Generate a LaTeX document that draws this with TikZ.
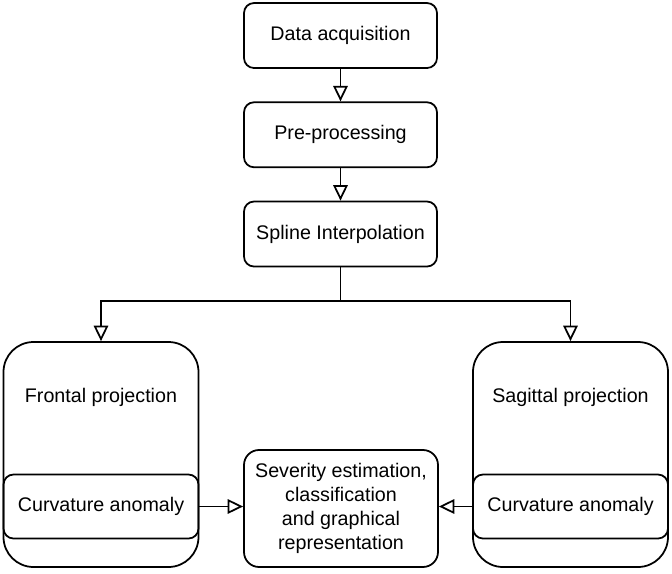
\documentclass[tikz,border=0pt]{standalone}
\usepackage{fontspec}
\setmainfont{Liberation Sans}
\usetikzlibrary{positioning,arrows.meta}
\tikzset{
    block/.style={
        draw,
        rounded corners=2mm,
        minimum width=3.86cm,
        minimum height=1.3cm,
        align=center,
        line width=1pt
    },
    view/.style={
        draw,
        rounded corners=6mm,
        minimum width=3.9cm,
        minimum height=4.5cm,
        line width=1pt
    },
    anomaly/.style={
        block,
        minimum width=3.9cm,
        minimum height=1.28cm
    },
    line/.style={
        -{Triangle[open,length=3.1mm,width=2.9mm]},
        line width=1pt
    }
}

\begin{document}
\begin{tikzpicture}[node distance=0.65cm, font=\fontsize{11.2}{13.6}\selectfont]
    \useasboundingbox (0,0) rectangle (13.44,-11.48);

    \node[block] (data) at (6.81,-0.71) {Data acquisition};
    \node[block, below=of data] (pre) {Pre-processing};
    \node[block, below=of pre] (spline) {Spline Interpolation};

    \node[view] (frontal) at (2.02,-9.09) {};
    \node[view] (sagittal) at (11.41,-9.09) {};
    \node (frontaltext) at (2.02,-7.94) {Frontal projection};
    \node (sagittaltext) at (11.41,-7.94) {Sagittal projection};
    \node[anomaly] (leftanomaly) at (2.02,-10.13) {Curvature anomaly};
    \node[anomaly] (rightanomaly) at (11.41,-10.13) {Curvature anomaly};

    \node[block, minimum width=3.88cm, minimum height=2.34cm, rounded corners=3mm] (severity) at (6.82,-10.17)
        {Severity estimation,\\classification\\and graphical\\representation};

    \coordinate (split) at (6.81,-6.02);

    \draw[line] (data) -- (pre);
    \draw[line] (pre) -- (spline);
    \draw[line] (spline) -- (split) -| (frontal);
    \draw[line] (split) -| (sagittal);
    \draw[line] (leftanomaly.east) -- (leftanomaly.east -| severity.west);
    \draw[line] (rightanomaly.west) -- (rightanomaly.west -| severity.east);

\end{tikzpicture}
\end{document}
